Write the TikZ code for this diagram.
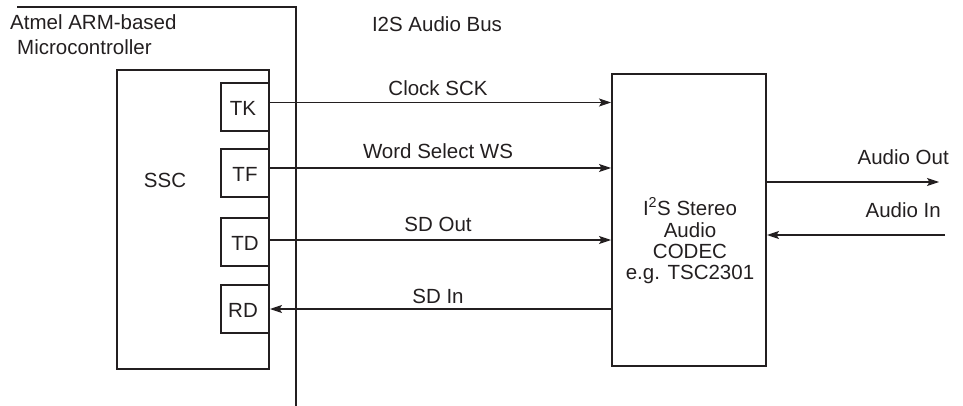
\documentclass[tikz,border=0pt]{standalone}
\usepackage{fontspec}
\setmainfont{Liberation Sans}
\usetikzlibrary{arrows.meta,calc}
\definecolor{ink}{HTML}{231F20}
\begin{document}
\begin{tikzpicture}[x=1pt,y=-1pt,
  every node/.style={font=\fontsize{20.5pt}{21.5pt}\selectfont, text=ink, inner sep=0pt},
  boxst/.style={draw=ink, line width=2pt},
  pinbox/.style={boxst, minimum width=48pt, minimum height=48pt},
  sig/.style={draw=ink, line width=1.1pt, -{Stealth[length=12pt,width=8pt,inset=2.5pt]}},
  lbl/.style={anchor=base}]
\useasboundingbox (0,0) rectangle (963,406);
% outer microcontroller frame
\draw[ink, line width=2.6pt] (17,7) -- (296,7) -- (296,406);
\node[lbl, anchor=base west] (atmel) at (10,30) {Atmel ARM-based};
\node[lbl, anchor=base west] (micro) at (17,55) {Microcontroller};
\node[lbl] (bus) at (437,32) {I2S Audio Bus};
% SSC block
\node[boxst, minimum width=152pt, minimum height=299pt] (ssc) at (193,219.5) {};
\node[lbl] (ssclbl) at (165,187) {SSC};
\node[pinbox] (TK) at (245,107.5) {};
\node[pinbox] (TF) at (245,173) {};
\node[pinbox] (TD) at (245,241.5) {};
\node[pinbox] (RD) at (245,309) {};
\node[lbl] at (243,116) {TK};
\node[lbl] at (245,182) {TF};
\node[lbl] at (245,250) {TD};
\node[lbl] at (243,317) {RD};
% codec
\node[boxst, minimum width=154pt, minimum height=292pt] (codec) at (689,220) {};
\node[lbl] (c1) at (690,215) {I\textsuperscript{2}S Stereo};
\node[lbl] (c2) at (690,237) {Audio};
\node[lbl] (c3) at (690,258) {CODEC};
\node[lbl] (c4) at (690,279) {e.g. TSC2301};
% bus signals
\coordinate (tkout) at ([yshift=5pt]TK.east);
\coordinate (tfout) at ([yshift=5pt]TF.east);
\coordinate (tdout) at ([yshift=1.5pt]TD.east);
\draw[sig] (tkout) -- (codec.west |- tkout);
\node[lbl] (clk) at (438,96) {Clock SCK};
\draw[sig] (tfout) -- (codec.west |- tfout);
\node[lbl] (ws) at (438,159) {Word Select WS};
\draw[sig] (tdout) -- (codec.west |- tdout);
\node[lbl] (sdo) at (438,231) {SD Out};
\draw[sig] (codec.west |- RD.east) -- (RD.east);
\node[lbl] (sdi) at (438,303) {SD In};
% audio in/out
\coordinate (aout) at (939,182);
\coordinate (ain) at (945,235);
\draw[sig] (codec.east |- aout) -- (aout);
\draw[sig] (ain) -- (codec.east |- ain);
\node[lbl, anchor=base east] (aoutl) at (949,165) {Audio Out};
\node[lbl, anchor=base east] (ainl) at (941,217) {Audio In};
\end{tikzpicture}
\end{document}
